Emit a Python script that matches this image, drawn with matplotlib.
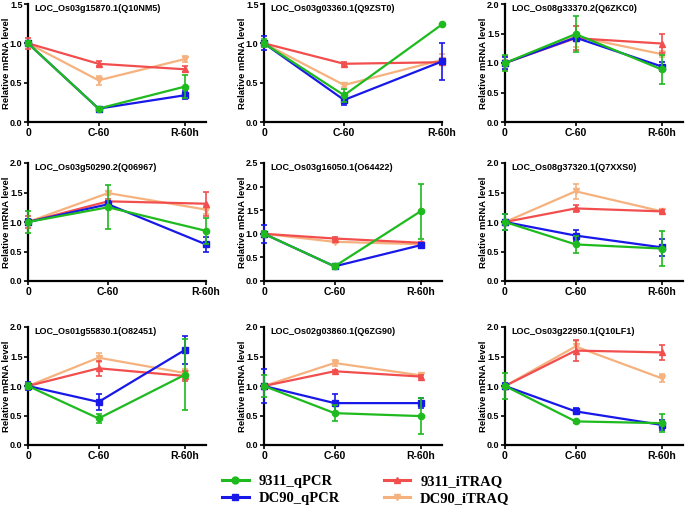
import matplotlib
matplotlib.use("Agg")
import matplotlib.pyplot as plt
from matplotlib.lines import Line2D

plt.rcParams["font.family"] = ["Liberation Sans", "DejaVu Sans"]
plt.rcParams["font.weight"] = "bold"

# ===========================
#   DADOS
# ===========================
pontos = ["0", "C-60", "R-60h"]
pos_x = [0, 0.9, 2]

titulos = [
    "LOC_Os03g15870.1(Q10NM5)", "LOC_Os03g03360.1(Q9ZST0)", "LOC_Os08g33370.2(Q6ZKC0)",
    "LOC_Os03g50290.2(Q06967)", "LOC_Os03g16050.1(O64422)", "LOC_Os08g37320.1(Q7XXS0)",
    "LOC_Os01g55830.1(O82451)", "LOC_Os02g03860.1(Q6ZG90)", "LOC_Os03g22950.1(Q10LF1)",
]
ymax = [1.5, 1.5, 2.0, 2.0, 2.5, 2.0, 2.0, 2.0, 2.0]
xmax = [2.27, 2.0, 2.27, 2.0, 2.27, 2.27, 2.27, 2.27, 2.27]

# 9311_qPCR
qpcr_9311 = [[1.0, 0.17, 0.45], [1.0, 0.34, 1.24], [1.0, 1.49, 0.89],
             [1.0, 1.25, 0.85], [1.0, 0.31, 1.48], [1.0, 0.62, 0.55],
             [1.0, 0.45, 1.19], [1.0, 0.54, 0.49], [1.0, 0.40, 0.37]]
qpcr_9311_err = [[0.03, 0.02, 0.15], [0.05, 0.08, 0.01], [0.14, 0.30, 0.25],
                 [0.19, 0.37, 0.22], [0.05, 0.06, 0.58], [0.13, 0.14, 0.29],
                 [0.05, 0.08, 0.60], [0.18, 0.14, 0.30], [0.22, 0.02, 0.15]]

# DC90_qPCR
qpcr_dc90 = [[1.0, 0.17, 0.34], [1.0, 0.28, 0.77], [1.0, 1.43, 0.94],
             [1.0, 1.30, 0.62], [1.0, 0.31, 0.76], [1.0, 0.77, 0.57],
             [1.0, 0.73, 1.61], [1.0, 0.71, 0.71], [1.0, 0.57, 0.34]]
qpcr_dc90_err = [[0.03, 0.02, 0.05], [0.09, 0.06, 0.23], [0.10, 0.05, 0.07],
                 [0.05, 0.05, 0.12], [0.19, 0.03, 0.05], [0.14, 0.10, 0.15],
                 [0.07, 0.13, 0.23], [0.28, 0.15, 0.08], [0.05, 0.05, 0.08]]

# 9311_iTRAQ
itraq_9311 = [[1.0, 0.74, 0.67], [1.0, 0.74, 0.76], [1.0, 1.42, 1.33],
              [1.0, 1.35, 1.31], [1.0, 0.90, 0.81], [1.0, 1.23, 1.18],
              [1.0, 1.30, 1.17], [1.0, 1.25, 1.16], [1.0, 1.60, 1.57]]
itraq_9311_err = [[0.07, 0.03, 0.04], [0.02, 0.02, 0.03], [0.12, 0.20, 0.16],
                  [0.10, 0.04, 0.20], [0.03, 0.03, 0.02], [0.03, 0.06, 0.02],
                  [0.05, 0.13, 0.08], [0.03, 0.02, 0.03], [0.03, 0.18, 0.13]]

# DC90_iTRAQ
itraq_dc90 = [[1.0, 0.53, 0.80], [1.0, 0.47, 0.79], [1.0, 1.45, 1.15],
              [1.0, 1.49, 1.21], [1.0, 0.83, 0.78], [1.0, 1.52, 1.18],
              [1.0, 1.48, 1.22], [1.0, 1.39, 1.18], [1.0, 1.67, 1.13]]
itraq_dc90_err = [[0.03, 0.06, 0.04], [0.03, 0.03, 0.07], [0.05, 0.18, 0.05],
                  [0.05, 0.03, 0.07], [0.02, 0.02, 0.02], [0.03, 0.13, 0.02],
                  [0.04, 0.08, 0.06], [0.03, 0.05, 0.03], [0.03, 0.10, 0.07]]

# ===========================
#   ESTILO
# ===========================
series = [
    ("DC90_iTRAQ", itraq_dc90, itraq_dc90_err, "#F5B27E", "v"),
    ("9311_iTRAQ", itraq_9311, itraq_9311_err, "#F24E4E", "^"),
    ("DC90_qPCR", qpcr_dc90, qpcr_dc90_err, "#1818E8", "s"),
    ("9311_qPCR", qpcr_9311, qpcr_9311_err, "#1EBA1E", "o"),
]

W, H = 685, 505
col_x = [28, 264, 505]
row_bottom = [122, 281, 445]
larg, alt = 178, 118

fig = plt.figure(figsize=(W / 100, H / 100), dpi=100)

for i in range(9):
    lin, col = divmod(i, 3)
    ax = fig.add_axes([col_x[col] / W, (H - row_bottom[lin]) / H, larg / W, alt / H])
    for z, (nome, vals, errs, cor, mk) in enumerate(series):
        ax.errorbar(pos_x, vals[i], yerr=errs[i], color=cor, marker=mk, markersize=4.5,
                    linewidth=1.6, elinewidth=1.2, capsize=2.5, capthick=1.2,
                    zorder=3 + z, clip_on=False)
    ax.set_xlim(0, xmax[i])
    ax.set_ylim(0, ymax[i])
    n = int(round(ymax[i] / 0.5)) + 1
    ax.set_yticks([k * 0.5 for k in range(n)])
    ax.set_yticklabels([f"{k * 0.5:.1f}" for k in range(n)])
    ax.set_xticks(pos_x)
    ax.set_xticklabels(pontos, fontsize=7.5)
    for s in ["top", "right"]:
        ax.spines[s].set_visible(False)
    for s in ["left", "bottom"]:
        ax.spines[s].set_linewidth(1.6)
    ax.tick_params(axis="y", labelsize=6.5, pad=1)
    ax.tick_params(axis="x", pad=1.5)
    ax.tick_params(width=1.2, length=3)
    ax.set_ylabel("Relative mRNA level", fontsize=6.8, fontweight="bold")
    ax.yaxis.set_label_coords(-0.098, 0.5)
    ax.text(0.035, 0.965, titulos[i], transform=ax.transAxes, fontsize=6.5,
            fontweight="bold", va="center", ha="left")

# ===========================
#   LEGENDA
# ===========================
ordem = {"9311_qPCR": 3, "DC90_qPCR": 2, "9311_iTRAQ": 1, "DC90_iTRAQ": 0}
handles = []
for nome in ["9311_qPCR", "DC90_qPCR", "9311_iTRAQ", "DC90_iTRAQ"]:
    _, _, _, cor, mk = series[ordem[nome]]
    handles.append(Line2D([], [], color=cor, marker=mk, markersize=5, linewidth=2.2, label=nome))

fig.legend(handles=handles, loc="upper left", bbox_to_anchor=(215 / W, 1 - 468 / H),
           ncol=2, frameon=False, borderpad=0, handlelength=1.8, handletextpad=0.7,
           columnspacing=3.0, labelspacing=0.25,
           prop={"family": "Liberation Serif", "weight": "bold", "size": 10.5})

fig.savefig("out.png", dpi=100)
